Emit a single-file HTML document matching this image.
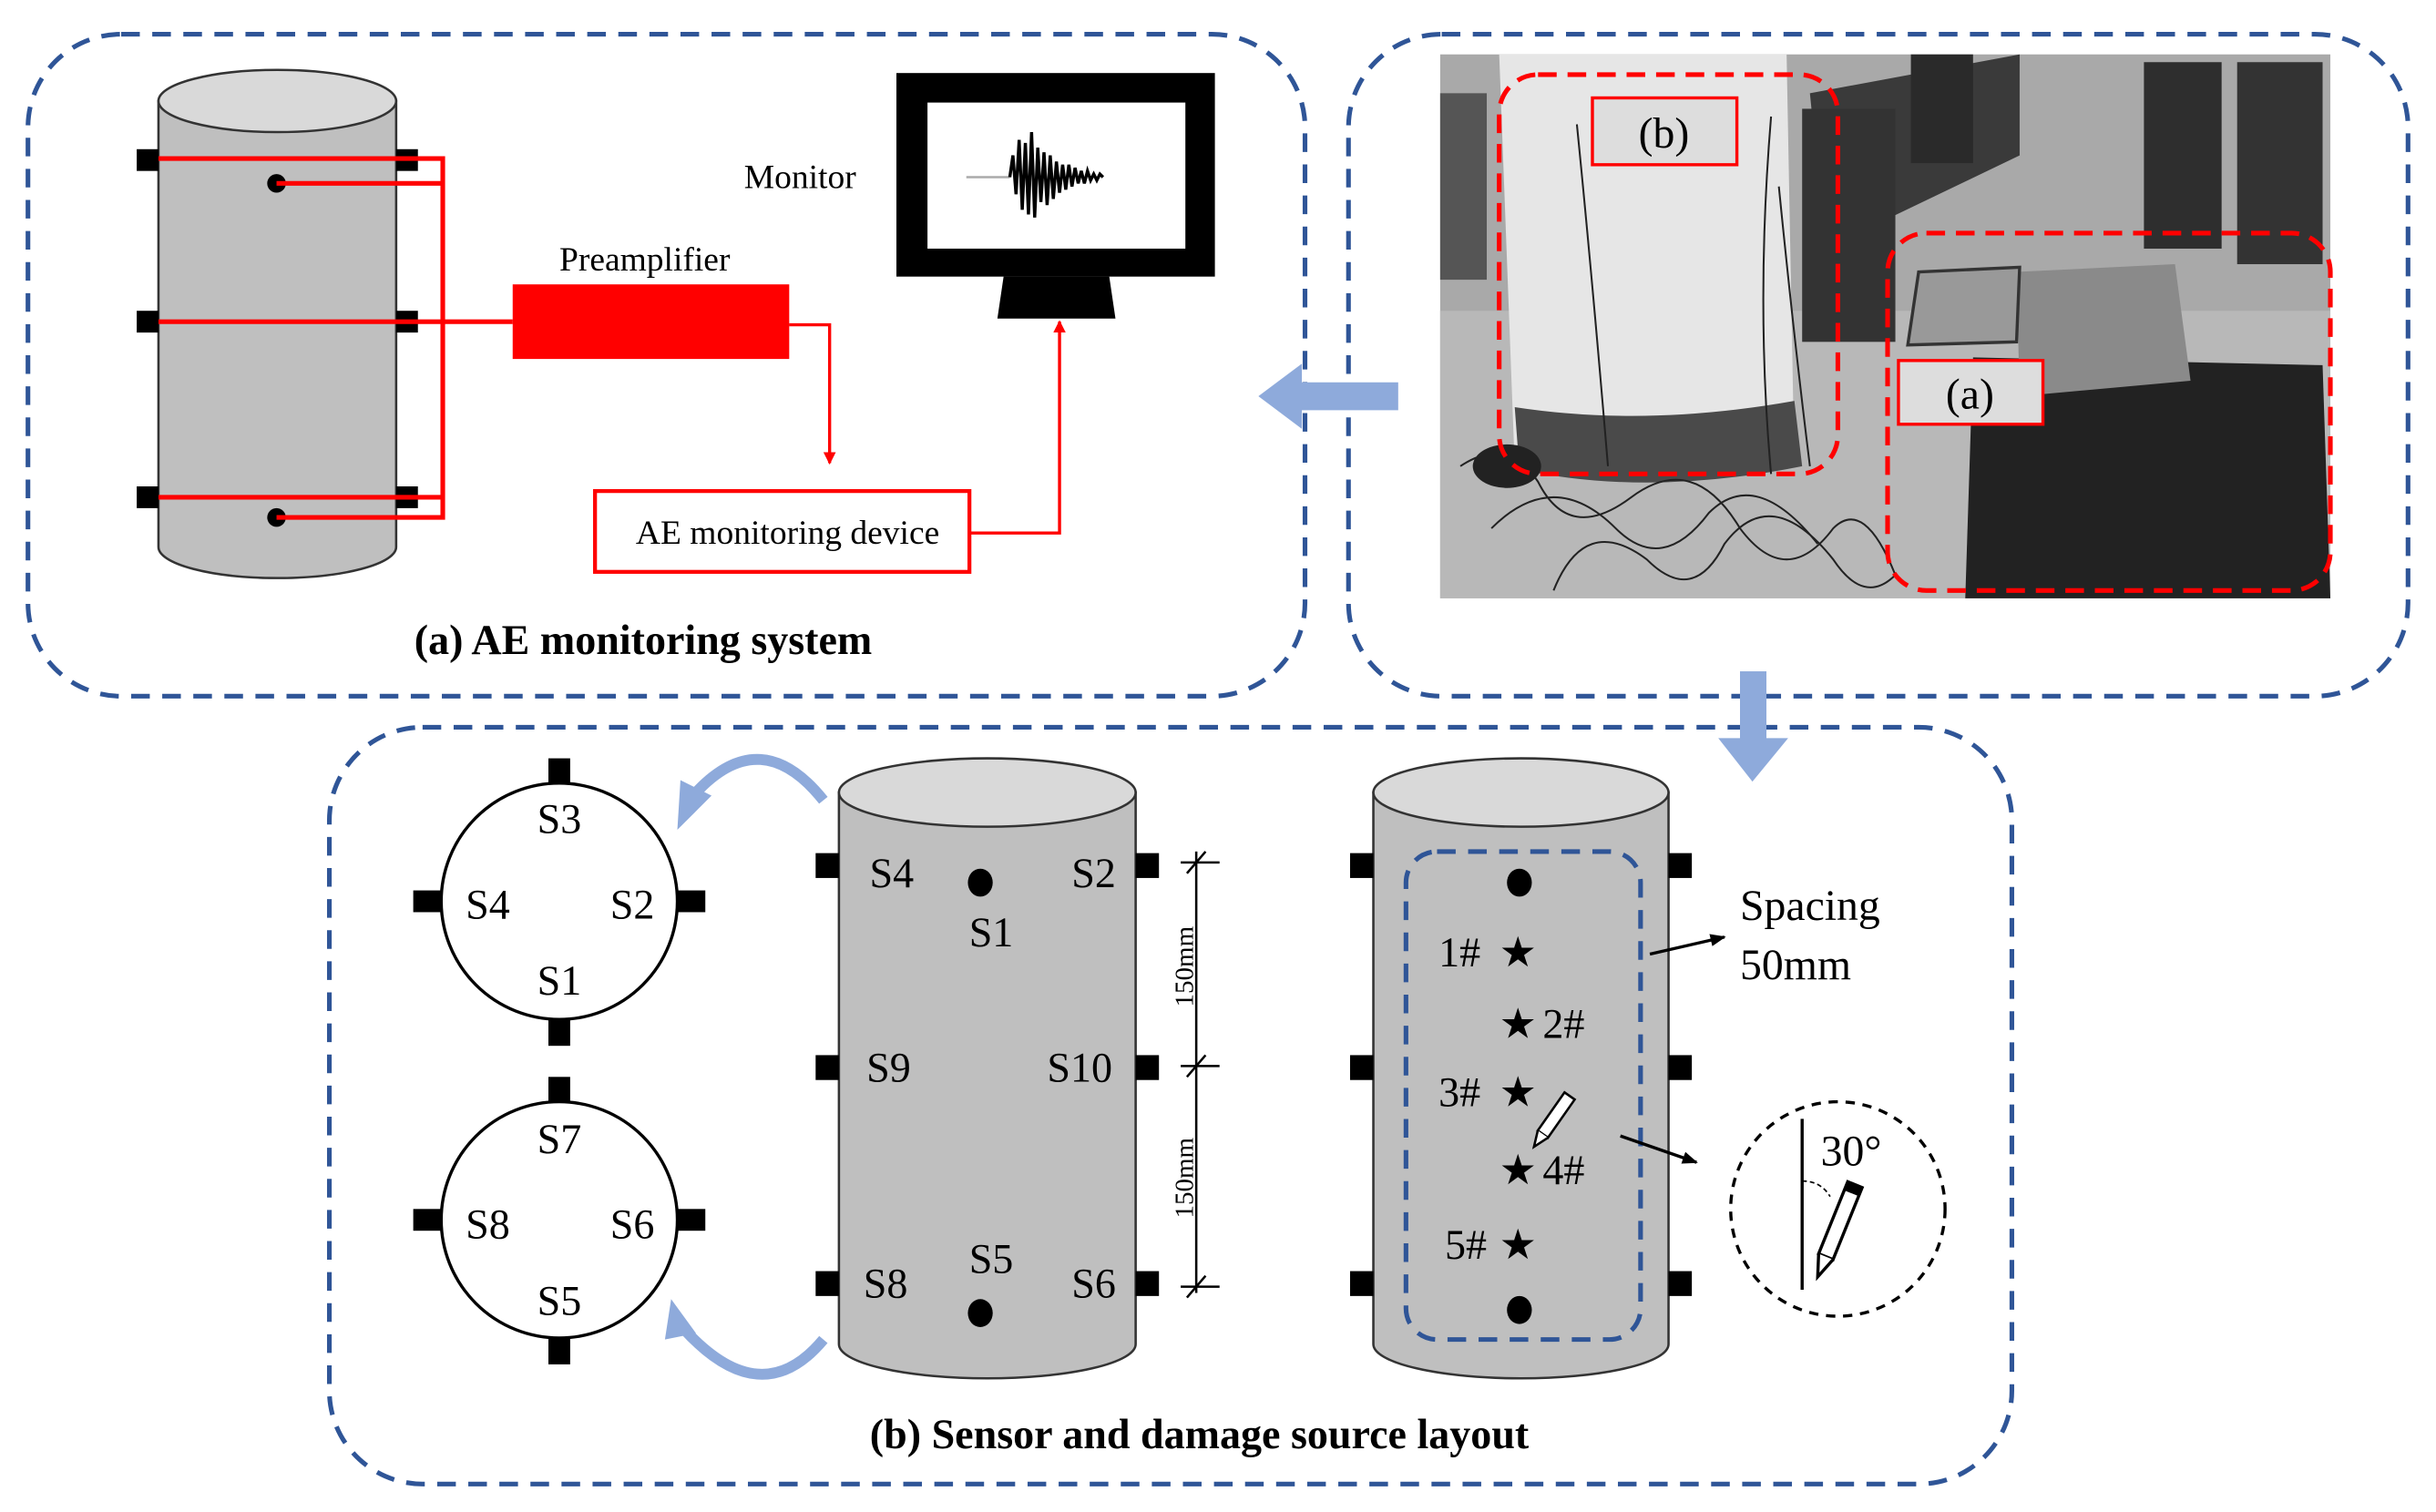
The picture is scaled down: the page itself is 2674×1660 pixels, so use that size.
<!DOCTYPE html>
<html><head><meta charset="utf-8"><style>
html,body{margin:0;padding:0;background:#fff;}
svg{display:block;font-family:"Liberation Serif","Times New Roman",serif;}
svg text{font-family:"Liberation Serif","Times New Roman",serif;}
</style></head><body>
<svg width="2674" height="1660" viewBox="0 0 1568 973" preserveAspectRatio="none" xmlns="http://www.w3.org/2000/svg" font-family="Liberation Serif, serif">
<defs>
<marker id="ar" markerWidth="8" markerHeight="8" refX="7" refY="4" orient="auto" markerUnits="userSpaceOnUse"><path d="M0,0 L8,4 L0,8 z" fill="#f00"/></marker>
<marker id="ak" markerWidth="10" markerHeight="10" refX="9" refY="5" orient="auto" markerUnits="userSpaceOnUse"><path d="M0,1 L10,5 L0,9 z" fill="#000"/></marker>
<marker id="ab" markerWidth="16" markerHeight="16" refX="8" refY="8" orient="auto" markerUnits="userSpaceOnUse"><path d="M0,0 L16,8 L0,16 z" fill="#8eaadb"/></marker>
</defs>
<g fill="none" stroke="#2f5597" stroke-width="3" stroke-dasharray="12,8">
<rect x="18" y="22" width="822" height="426" rx="60"/>
<rect x="868" y="22" width="682" height="426" rx="60"/>
<rect x="212" y="468" width="1083" height="487" rx="60"/>
</g>
<g stroke="#333" stroke-width="1.5">
<path d="M102,65 L102,352 A76.5,20 0 0 0 255,352 L255,65 z" fill="#bfbfbf"/>
<ellipse cx="178.5" cy="65" rx="76.5" ry="20" fill="#d9d9d9"/>
</g>
<g fill="#000">
<rect x="88" y="96" width="14" height="14"/><rect x="255" y="96" width="14" height="14"/>
<rect x="88" y="200" width="14" height="14"/><rect x="255" y="200" width="14" height="14"/>
<rect x="88" y="313" width="14" height="14"/><rect x="255" y="313" width="14" height="14"/>
<circle cx="178" cy="118" r="6"/><circle cx="178" cy="333" r="6"/>
</g>
<g stroke="#f00" stroke-width="3" fill="none">
<path d="M102,102 H285 V333 H178"/>
<path d="M178,118 H285"/>
<path d="M102,320 H285"/>
<path d="M102,207 H330"/>
</g>
<rect x="330" y="183" width="178" height="48" fill="#f00"/>
<text x="415" y="174" font-size="22" text-anchor="middle">Preamplifier</text>
<path d="M508,209 H534 V298" stroke="#f00" stroke-width="2" fill="none" marker-end="url(#ar)"/>
<rect x="383" y="316" width="241" height="52" fill="#fff" stroke="#f00" stroke-width="2.5"/>
<text x="507" y="350" font-size="22" text-anchor="middle">AE monitoring device</text>
<path d="M624,343 H682 V207" stroke="#f00" stroke-width="2" fill="none" marker-end="url(#ar)"/>
<rect x="577" y="47" width="205" height="131" fill="#000"/>
<rect x="597" y="66" width="166" height="94" fill="#fff"/>
<path d="M646,178 H714 L718,205 H642 z" fill="#000"/>
<line x1="622" y1="114" x2="650" y2="114" stroke="#aaa" stroke-width="1.5"/>
<path d="M650,114 L652,100 L654,125 L656,90 L658,135 L660,92 L662,138 L664,85 L666,140 L668,95 L670,130 L672,98 L674,132 L676,100 L678,128 L680,104 L682,124 L684,106 L686,122 L688,106 L690,120 L692,108 L694,118 L696,110 L698,118 L700,110 L702,116 L704,112 L706,116 L708,112 L710,114" stroke="#000" stroke-width="2" fill="none"/>
<text x="515" y="121" font-size="22" text-anchor="middle">Monitor</text>
<text x="414" y="421" font-size="27" font-weight="bold" text-anchor="middle">(a) AE monitoring system</text>
<path d="M900,255 H835" stroke="#8eaadb" stroke-width="18"/>
<path d="M810,255 L838,234 L838,276 z" fill="#8eaadb"/>
<rect x="1120" y="432" width="17" height="45" fill="#8eaadb"/>
<path d="M1106,475 L1151,475 L1128,503 z" fill="#8eaadb"/>
<!-- photo -->
<rect x="927" y="35" width="573" height="350" fill="#a9a9a9"/>
<rect x="927" y="200" width="573" height="185" fill="#b8b8b8"/>
<path d="M1165,60 L1300,35 L1300,100 L1175,160 z" fill="#3a3a3a"/>
<rect x="1160" y="70" width="60" height="150" fill="#333"/>
<rect x="1230" y="35" width="40" height="70" fill="#2a2a2a"/>
<rect x="1380" y="40" width="50" height="120" fill="#2e2e2e"/>
<rect x="1440" y="40" width="55" height="130" fill="#333"/>
<rect x="927" y="60" width="30" height="120" fill="#555"/>
<path d="M965,35 L1150,35 L1155,300 Q1060,320 975,300 z" fill="#e6e6e6"/>
<path d="M975,262 Q1060,275 1155,258 L1160,300 Q1060,320 978,302 z" fill="#4a4a4a"/>
<path d="M1270,230 L1495,235 L1500,385 L1265,385 z" fill="#222"/>
<path d="M1298,175 L1400,170 L1410,245 L1300,255 z" fill="#8a8a8a"/>
<path d="M1235,175 L1300,172 L1298,220 L1228,222 z" fill="#999" stroke="#333" stroke-width="2"/>
<g stroke="#222" stroke-width="1.2" fill="none">
<path d="M940,300 q30,-20 50,10 q20,40 60,10 q40,-30 70,20 q30,40 60,0 q20,-20 40,30"/>
<path d="M960,340 q40,-40 80,0 q30,30 60,-10 q30,-30 70,20"/>
<path d="M1000,380 q20,-50 60,-20 q30,30 50,-10 q30,-40 70,10 q20,30 40,10"/>
<path d="M1015,80 q10,100 20,220"/><path d="M1140,75 q-10,120 0,230"/><path d="M1145,120 q10,100 20,180"/>
</g>
<ellipse cx="970" cy="300" rx="22" ry="14" fill="#222"/>
<g fill="none" stroke="#f00" stroke-width="3" stroke-dasharray="12,7">
<rect x="965" y="48" width="218" height="257" rx="25"/>
<rect x="1215" y="150" width="285" height="230" rx="25"/>
</g>
<rect x="1025" y="63" width="93" height="43" fill="#ddd" stroke="#f00" stroke-width="2"/>
<text x="1071" y="95" font-size="28" text-anchor="middle">(b)</text>
<rect x="1222" y="232" width="93" height="41" fill="#ddd" stroke="#f00" stroke-width="2"/>
<text x="1268" y="263" font-size="28" text-anchor="middle">(a)</text>
<g fill="#000">
<rect x="353" y="488" width="14" height="18"/><rect x="353" y="655" width="14" height="18"/>
<rect x="266" y="573" width="18" height="14"/><rect x="436" y="573" width="18" height="14"/>
<rect x="353" y="693" width="14" height="18"/><rect x="353" y="860" width="14" height="18"/>
<rect x="266" y="778" width="18" height="14"/><rect x="436" y="778" width="18" height="14"/>
</g>
<circle cx="360" cy="580" r="76" fill="#fff" stroke="#000" stroke-width="2"/>
<circle cx="360" cy="785" r="76" fill="#fff" stroke="#000" stroke-width="2"/>
<g font-size="27" text-anchor="middle">
<text x="360" y="536">S3</text><text x="314" y="591">S4</text><text x="407" y="591">S2</text><text x="360" y="640">S1</text>
<text x="360" y="742">S7</text><text x="314" y="797">S8</text><text x="407" y="797">S6</text><text x="360" y="846">S5</text>
</g>
<path d="M530,515 Q490,465 448,510" stroke="#8eaadb" stroke-width="7" fill="none"/>
<path d="M436,534 L438,502 L458,512 z" fill="#8eaadb"/>
<path d="M530,862 Q490,910 440,855" stroke="#8eaadb" stroke-width="7" fill="none"/>
<path d="M432,836 L448,858 L428,862 z" fill="#8eaadb"/>
<g stroke="#333" stroke-width="1.5">
<path d="M540,510 L540,865 A95.5,22 0 0 0 731,865 L731,510 z" fill="#bfbfbf"/>
<ellipse cx="635.5" cy="510" rx="95.5" ry="22" fill="#d9d9d9"/>
<path d="M884,510 L884,865 A95,22 0 0 0 1074,865 L1074,510 z" fill="#bfbfbf"/>
<ellipse cx="979" cy="510" rx="95" ry="22" fill="#d9d9d9"/>
</g>
<g fill="#000">
<rect x="525" y="549" width="15" height="16"/><rect x="731" y="549" width="15" height="16"/>
<rect x="525" y="679" width="15" height="16"/><rect x="731" y="679" width="15" height="16"/>
<rect x="525" y="818" width="15" height="16"/><rect x="731" y="818" width="15" height="16"/>
<rect x="869" y="549" width="15" height="16"/><rect x="1074" y="549" width="15" height="16"/>
<rect x="869" y="679" width="15" height="16"/><rect x="1074" y="679" width="15" height="16"/>
<rect x="869" y="818" width="15" height="16"/><rect x="1074" y="818" width="15" height="16"/>
<ellipse cx="631" cy="568" rx="8" ry="9"/><ellipse cx="631" cy="845" rx="8" ry="9"/>
<ellipse cx="978" cy="568" rx="8" ry="9"/><ellipse cx="978" cy="843" rx="8" ry="9"/>
</g>
<g font-size="27" text-anchor="middle">
<text x="574" y="571">S4</text><text x="704" y="571">S2</text><text x="638" y="609">S1</text>
<text x="572" y="696">S9</text><text x="695" y="696">S10</text>
<text x="638" y="819">S5</text><text x="570" y="835">S8</text><text x="704" y="835">S6</text>
</g>
<g stroke="#000" stroke-width="1.5">
<line x1="770" y1="548" x2="770" y2="832"/>
<line x1="760" y1="555" x2="785" y2="555"/><line x1="764" y1="562" x2="776" y2="548"/>
<line x1="760" y1="686" x2="785" y2="686"/><line x1="764" y1="693" x2="776" y2="679"/>
<line x1="760" y1="828" x2="785" y2="828"/><line x1="764" y1="835" x2="776" y2="821"/>
</g>
<text transform="translate(768,622) rotate(-90)" font-size="17" text-anchor="middle">150mm</text>
<text transform="translate(768,758) rotate(-90)" font-size="17" text-anchor="middle">150mm</text>
<rect x="905" y="548" width="151" height="314" rx="20" fill="none" stroke="#2f5597" stroke-width="3" stroke-dasharray="12,8"/>
<g font-size="27">
<text x="926" y="622">1#</text><text x="965" y="622">★</text>
<text x="965" y="668">★</text><text x="993" y="668">2#</text>
<text x="926" y="712">3#</text><text x="965" y="712">★</text>
<text x="965" y="762">★</text><text x="993" y="762">4#</text>
<text x="930" y="810">5#</text><text x="965" y="810">★</text>
</g>
<g transform="translate(1000,720) rotate(35)"><rect x="-4" y="-18" width="8" height="30" fill="#fff" stroke="#000" stroke-width="1.5"/><path d="M-4,12 L0,22 L4,12" fill="#fff" stroke="#000" stroke-width="1.5"/></g>
<path d="M1062,614 L1110,603" stroke="#000" stroke-width="2" marker-end="url(#ak)"/>
<text x="1120" y="592" font-size="28">Spacing</text>
<text x="1120" y="630" font-size="28">50mm</text>
<path d="M1043,731 L1092,748" stroke="#000" stroke-width="2" marker-end="url(#ak)"/>
<circle cx="1183" cy="778" r="69" fill="none" stroke="#000" stroke-width="2" stroke-dasharray="6,5"/>
<line x1="1160" y1="720" x2="1160" y2="830" stroke="#000" stroke-width="2"/>
<g transform="translate(1182,792) rotate(22)"><rect x="-5" y="-32" width="10" height="50" fill="#fff" stroke="#000" stroke-width="2"/><rect x="-5" y="-32" width="10" height="6" fill="#000"/><path d="M-5,18 L0,32 L5,18" fill="#fff" stroke="#000" stroke-width="2"/></g>
<path d="M1160,760 Q1172,760 1178,770" stroke="#000" stroke-width="1" fill="none" stroke-dasharray="3,2"/>
<text x="1172" y="750" font-size="28">30°</text>
<text x="772" y="932" font-size="27" font-weight="bold" text-anchor="middle">(b)  Sensor and damage source layout</text>
</svg>
</body></html>
